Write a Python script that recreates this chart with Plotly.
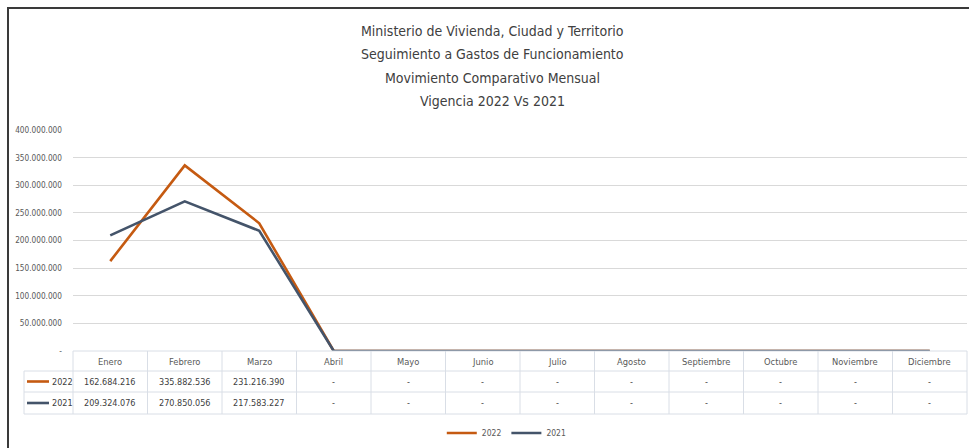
import plotly.graph_objects as go

# ---------------- data ----------------
months = ["Enero", "Febrero", "Marzo", "Abril", "Mayo", "Junio", "Julio",
          "Agosto", "Septiembre", "Octubre", "Noviembre", "Diciembre"]
series_names = ["2022", "2021"]
values_2022 = [162684216, 335882536, 231216390, 0, 0, 0, 0, 0, 0, 0, 0, 0]
values_2021 = [209324076, 270850056, 217583227, 0, 0, 0, 0, 0, 0, 0, 0, 0]
y_tick_values = [0, 50000000, 100000000, 150000000, 200000000,
                 250000000, 300000000, 350000000, 400000000]
title_lines = ["Ministerio de Vivienda, Ciudad y Territorio",
               "Seguimiento a Gastos de Funcionamiento",
               "Movimiento Comparativo Mensual",
               "Vigencia 2022 Vs 2021"]

# ---------------- style ----------------
W, H = 969, 448
L, R, T, B = 73, 2, 130, 97
PW, PH = W - L - R, H - T - B
FONT = "Liberation Sans Narrow, Arial Narrow, DejaVu Sans Condensed, sans-serif"
C2022 = "#C55A11"
C2021 = "#44546A"
GRID = "#D9D9D9"
TBL = "#D9DEE6"
TXT = "#595959"
colors = [C2022, C2021]
series_values = [values_2022, values_2021]


def fmt(v):
    return "-" if v == 0 else f"{v:,}".replace(",", ".")


def px(x):  # pixel x -> paper
    return (x - L) / PW


def py(y):  # pixel y (top-down) -> paper
    return (H - B - y) / PH


fig = go.Figure()
for name, vals, col in zip(series_names, series_values, colors):
    fig.add_trace(go.Scatter(x=months, y=vals, name=name, mode="lines",
                             line=dict(color=col, width=2.6),
                             cliponaxis=False))

shapes = []
annotations = []

# title
for i, line in enumerate(title_lines):
    annotations.append(dict(text=line, xref="paper", yref="paper",
                            x=px(492), y=py(31 + 23.4 * i), showarrow=False,
                            xanchor="center", yanchor="middle",
                            font=dict(family=FONT, size=14, color="#404040")))

# outer frame (top + left)
shapes.append(dict(type="line", xref="paper", yref="paper", x0=px(7), x1=px(969),
                   y0=py(8), y1=py(8), line=dict(color="#3A3A3A", width=2)))
shapes.append(dict(type="line", xref="paper", yref="paper", x0=px(8), x1=px(8),
                   y0=py(7), y1=py(448), line=dict(color="#3A3A3A", width=2)))

# data table
col_w = PW / len(months)
x_left_lbl = 24
rows_y = [351, 371, 392, 414]
shapes.append(dict(type="line", xref="paper", yref="paper", x0=px(L), x1=px(L + PW),
                   y0=py(rows_y[0]), y1=py(rows_y[0]), line=dict(color=TBL, width=1)))
for yy in rows_y[1:]:
    shapes.append(dict(type="line", xref="paper", yref="paper", x0=px(x_left_lbl),
                       x1=px(L + PW), y0=py(yy), y1=py(yy),
                       line=dict(color=TBL, width=1)))
for k in range(len(months) + 1):
    xx = L + col_w * k
    shapes.append(dict(type="line", xref="paper", yref="paper", x0=px(xx), x1=px(xx),
                       y0=py(rows_y[0]), y1=py(rows_y[-1]),
                       line=dict(color=TBL, width=1)))
shapes.append(dict(type="line", xref="paper", yref="paper", x0=px(x_left_lbl),
                   x1=px(x_left_lbl), y0=py(rows_y[1]), y1=py(rows_y[-1]),
                   line=dict(color=TBL, width=1)))

for i, m in enumerate(months):
    cx = L + col_w * (i + 0.5)
    annotations.append(dict(text=m, xref="paper", yref="paper", x=px(cx),
                            y=py((rows_y[0] + rows_y[1]) / 2), showarrow=False,
                            xanchor="center", yanchor="middle",
                            font=dict(family=FONT, size=9.3, color=TXT)))
    for r, vals in enumerate(series_values):
        annotations.append(dict(text=fmt(vals[i]), xref="paper", yref="paper",
                                x=px(cx), y=py((rows_y[r + 1] + rows_y[r + 2]) / 2),
                                showarrow=False, xanchor="center", yanchor="middle",
                                font=dict(family=FONT, size=9, color="#404040")))

for r, (name, col) in enumerate(zip(series_names, colors)):
    yc = (rows_y[r + 1] + rows_y[r + 2]) / 2
    shapes.append(dict(type="line", xref="paper", yref="paper", x0=px(27), x1=px(49),
                       y0=py(yc), y1=py(yc), line=dict(color=col, width=2.6)))
    annotations.append(dict(text=name, xref="paper", yref="paper", x=px(50),
                            y=py(yc), showarrow=False, xanchor="left",
                            yanchor="middle",
                            font=dict(family=FONT, size=9, color="#404040")))

fig.update_layout(
    width=W, height=H,
    margin=dict(l=L, r=R, t=T, b=B),
    paper_bgcolor="white", plot_bgcolor="white",
    font=dict(family=FONT, size=9, color=TXT),
    showlegend=True,
    legend=dict(orientation="h", xref="container", yref="container",
                x=0.523, y=(H - 433) / H, xanchor="center", yanchor="middle",
                font=dict(family=FONT, size=8.5, color=TXT),
                itemwidth=30, traceorder="normal", bgcolor="rgba(0,0,0,0)"),
    xaxis=dict(type="category", range=[-0.5, len(months) - 0.5],
               showticklabels=False, showgrid=False, zeroline=False,
               showline=False, ticks=""),
    yaxis=dict(range=[0, 400000000], tickvals=y_tick_values,
               ticktext=[fmt(v) for v in y_tick_values],
               showgrid=True, gridcolor=GRID, gridwidth=1, zeroline=False,
               showline=False, ticks="", ticklabelstandoff=10,
               tickfont=dict(family=FONT, size=8.2, color=TXT)),
    shapes=shapes,
    annotations=annotations,
)

fig.write_html("out.html",
               config={"displayModeBar": False},
               post_script="document.body.style.margin='0';"
                           "document.body.style.overflow='hidden';")
